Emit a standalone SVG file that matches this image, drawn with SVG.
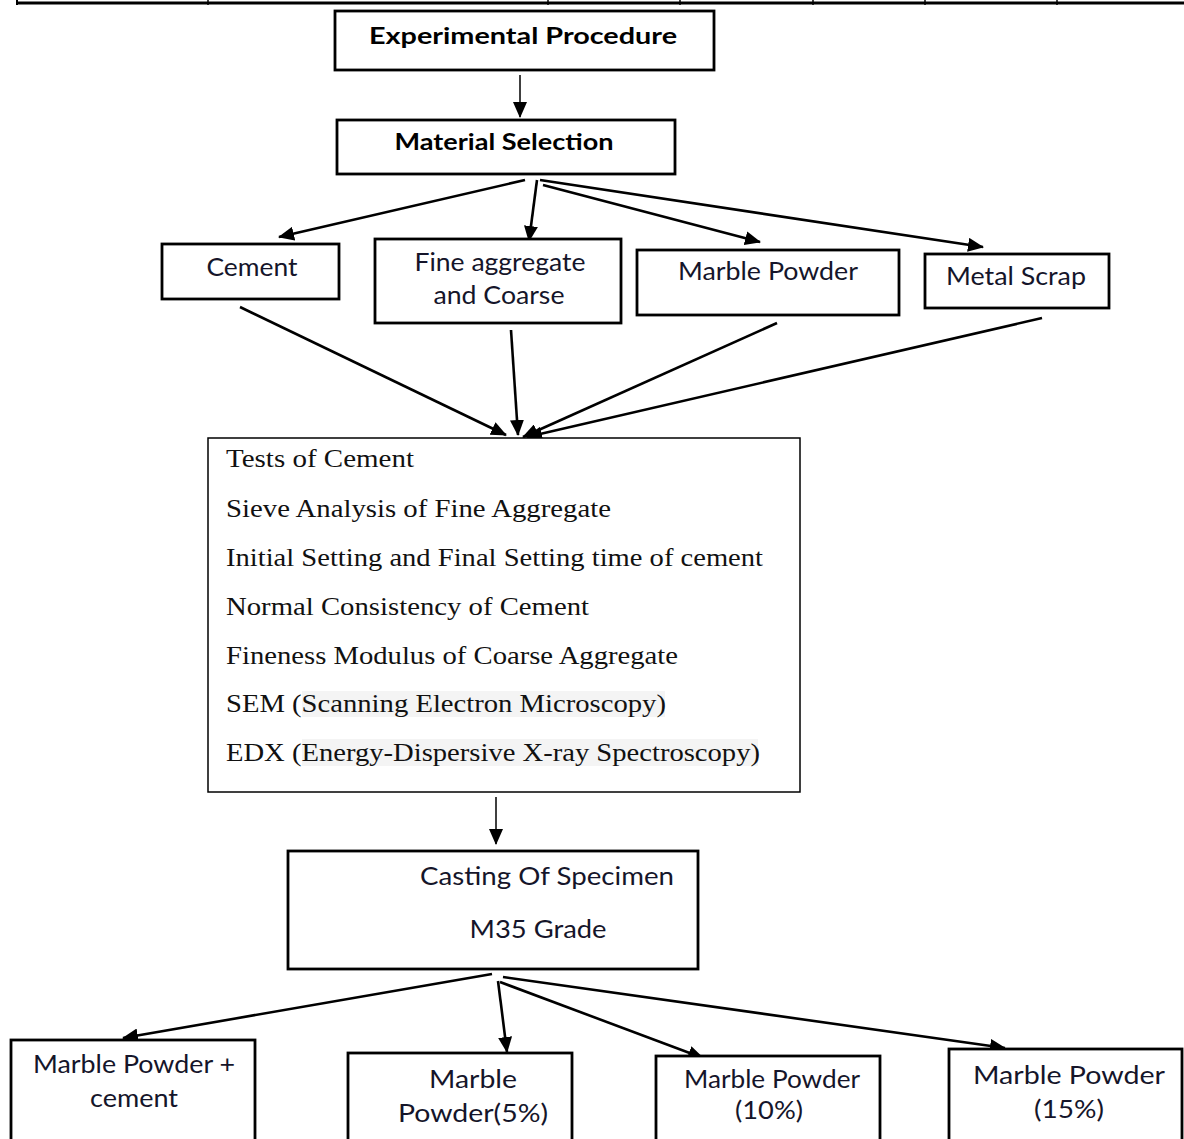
<svg xmlns="http://www.w3.org/2000/svg" width="1184" height="1139" viewBox="0 0 1184 1139">
<style>
.box{fill:#fff;stroke:#000;stroke-width:2.8}
.thin{fill:#fff;stroke:#000;stroke-width:1.5}
.c{font-family:Lato,"Open Sans",sans-serif;font-size:25px;fill:#15152a;text-anchor:middle}
.b{font-family:Lato,"Open Sans",sans-serif;font-size:23px;font-weight:bold;fill:#000;text-anchor:middle}
.t{font-family:"Liberation Serif","Times New Roman",serif;font-size:25.5px;fill:#111}
.l{stroke:#000;stroke-width:2.6;fill:none;marker-end:url(#ah)}
.lt{stroke:#000;stroke-width:1.5;fill:none;marker-end:url(#ah)}
</style>
<defs>
<marker id="ah" markerUnits="userSpaceOnUse" markerWidth="16" markerHeight="14" refX="15" refY="7" orient="auto">
<path d="M0,0 L16,7 L0,14 z" fill="#000"/>
</marker>
</defs>
<rect width="1184" height="1139" fill="#fff"/>
<g id="table-edge" stroke="#000">
<line x1="17" y1="3" x2="1184" y2="3" stroke-width="3"/>
<line x1="17" y1="0" x2="17" y2="5" stroke-width="2"/>
<line x1="208" y1="0" x2="208" y2="5" stroke-width="1.5"/>
<line x1="548" y1="0" x2="548" y2="5" stroke-width="1.5"/>
<line x1="680" y1="0" x2="680" y2="5" stroke-width="1.5"/>
<line x1="813" y1="0" x2="813" y2="5" stroke-width="1.5"/>
<line x1="925" y1="0" x2="925" y2="5" stroke-width="1.5"/>
<line x1="1057" y1="0" x2="1057" y2="5" stroke-width="1.5"/>
</g>
<g id="connectors">
<line class="lt" x1="520" y1="75" x2="520" y2="117"/>
<line class="l" x1="525" y1="180" x2="279" y2="237"/>
<line class="l" x1="537" y1="180" x2="529" y2="241"/>
<line class="l" x1="543" y1="185" x2="760" y2="242"/>
<line class="l" x1="540" y1="180" x2="983" y2="247"/>
<line class="l" x1="240" y1="307" x2="506" y2="435"/>
<line class="l" x1="511" y1="330" x2="518" y2="435"/>
<line class="l" x1="777" y1="323" x2="523" y2="437"/>
<line class="l" x1="1042" y1="318" x2="527" y2="437"/>
<line class="lt" x1="496" y1="797" x2="496" y2="844"/>
<line class="l" x1="492" y1="974" x2="123" y2="1038"/>
<line class="l" x1="498" y1="981" x2="507" y2="1052"/>
<line class="l" x1="500" y1="982" x2="703" y2="1058"/>
<line class="l" x1="503" y1="977" x2="1005" y2="1048"/>
</g>
<g id="experimental-procedure">
<rect class="box" x="335" y="11" width="379" height="59"/>
<text class="b" x="523" y="44" textLength="308" lengthAdjust="spacingAndGlyphs">Experimental Procedure</text>
</g>
<g id="material-selection">
<rect class="box" x="337" y="120" width="338" height="54"/>
<text class="b" x="504" y="150" textLength="219" lengthAdjust="spacingAndGlyphs">Material Selection</text>
</g>
<g id="cement">
<rect class="box" x="162" y="244" width="177" height="55"/>
<text class="c" x="252" y="276" textLength="91" lengthAdjust="spacingAndGlyphs">Cement</text>
</g>
<g id="fine-aggregate">
<rect class="box" x="375" y="239" width="246" height="84"/>
<text class="c" x="500" y="271" textLength="171" lengthAdjust="spacingAndGlyphs">Fine aggregate</text>
<text class="c" x="499" y="304" textLength="131" lengthAdjust="spacingAndGlyphs">and Coarse</text>
</g>
<g id="marble-powder">
<rect class="box" x="637" y="250" width="262" height="65"/>
<text class="c" x="768" y="280" textLength="180" lengthAdjust="spacingAndGlyphs">Marble Powder</text>
</g>
<g id="metal-scrap">
<rect class="box" x="925" y="254" width="184" height="54"/>
<text class="c" x="1016" y="285" textLength="140" lengthAdjust="spacingAndGlyphs">Metal Scrap</text>
</g>
<g id="tests">
<rect class="thin" x="208" y="438" width="592" height="354"/>
<rect x="302" y="691" width="363" height="26" fill="#f4f4f4"/>
<rect x="302" y="739" width="456" height="27" fill="#f4f4f4"/>
<text class="t" x="226" y="467" textLength="188" lengthAdjust="spacingAndGlyphs">Tests of Cement</text>
<text class="t" x="226" y="517" textLength="385" lengthAdjust="spacingAndGlyphs">Sieve Analysis of Fine Aggregate</text>
<text class="t" x="226" y="566" textLength="537" lengthAdjust="spacingAndGlyphs">Initial Setting and Final Setting time of cement</text>
<text class="t" x="226" y="615" textLength="363" lengthAdjust="spacingAndGlyphs">Normal Consistency of Cement</text>
<text class="t" x="226" y="664" textLength="452" lengthAdjust="spacingAndGlyphs">Fineness Modulus of Coarse Aggregate</text>
<text class="t" x="226" y="712" textLength="440" lengthAdjust="spacingAndGlyphs">SEM (Scanning Electron Microscopy)</text>
<text class="t" x="226" y="761" textLength="534" lengthAdjust="spacingAndGlyphs">EDX (Energy-Dispersive X-ray Spectroscopy)</text>
</g>
<g id="casting">
<rect class="box" x="288" y="851" width="410" height="118"/>
<text class="c" x="547" y="885" textLength="254" lengthAdjust="spacingAndGlyphs">Casting Of Specimen</text>
<text class="c" x="538" y="938" textLength="137" lengthAdjust="spacingAndGlyphs">M35 Grade</text>
</g>
<g id="mp-cement">
<rect class="box" x="11" y="1040" width="244" height="110"/>
<text class="c" x="134" y="1073" textLength="202" lengthAdjust="spacingAndGlyphs">Marble Powder +</text>
<text class="c" x="134" y="1107" textLength="88" lengthAdjust="spacingAndGlyphs">cement</text>
</g>
<g id="mp-5">
<rect class="box" x="348" y="1053" width="224" height="100"/>
<text class="c" x="473" y="1088" textLength="88" lengthAdjust="spacingAndGlyphs">Marble</text>
<text class="c" x="473" y="1122" textLength="150" lengthAdjust="spacingAndGlyphs">Powder(5%)</text>
</g>
<g id="mp-10">
<rect class="box" x="656" y="1056" width="224" height="100"/>
<text class="c" x="772" y="1088" textLength="176" lengthAdjust="spacingAndGlyphs">Marble Powder</text>
<text class="c" x="769" y="1119" textLength="68" lengthAdjust="spacingAndGlyphs">(10%)</text>
</g>
<g id="mp-15">
<rect class="box" x="949" y="1049" width="233" height="100"/>
<text class="c" x="1069" y="1084" textLength="192" lengthAdjust="spacingAndGlyphs">Marble Powder</text>
<text class="c" x="1069" y="1118" textLength="70" lengthAdjust="spacingAndGlyphs">(15%)</text>
</g>
</svg>
